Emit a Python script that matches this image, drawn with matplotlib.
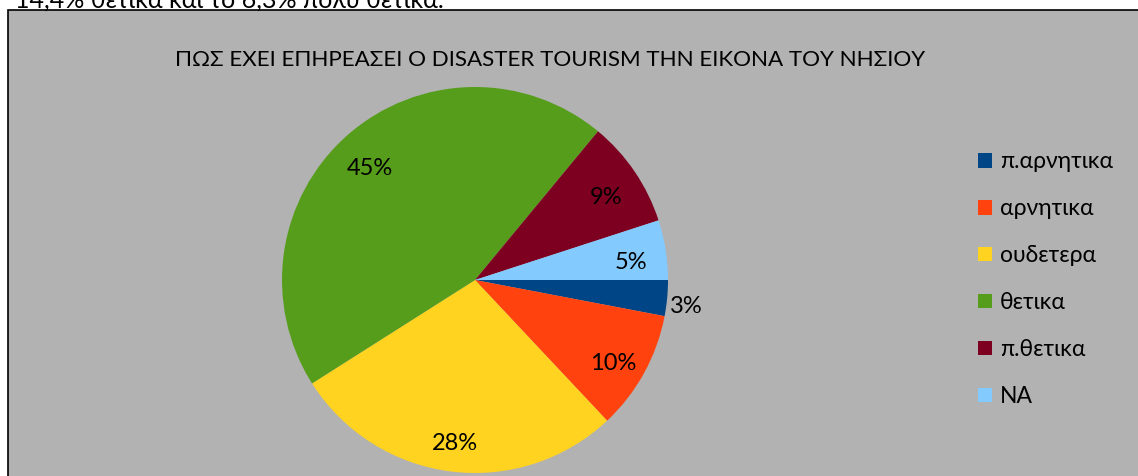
import matplotlib
matplotlib.use("Agg")
import matplotlib.pyplot as plt
from matplotlib.patches import Rectangle, Patch

plt.rcParams['font.family'] = ['Lato', 'DejaVu Sans']

# data
categories = ['π.αρνητικα', 'αρνητικα', 'ουδετερα', 'θετικα', 'π.θετικα', 'NA']
shares = [3, 10, 28, 45, 9, 5]
colors = ['#004586', '#FF420E', '#FFD320', '#579D1C', '#7E0021', '#83CAFF']
title = 'ΠΩΣ ΕΧΕΙ ΕΠΗΡΕΑΣΕΙ Ο DISASTER TOURISM ΤΗΝ ΕΙΚΟΝΑ ΤΟΥ ΝΗΣΙΟΥ'
top_text = '14,4% θετικα και το 6,3% πολυ θετικα.'

W, H = 1138, 476
fig = plt.figure(figsize=(W / 100, H / 100), dpi=100)
fig.patch.set_facecolor('white')

# gray chart area with black border
fig.patches.append(Rectangle((8 / W, -0.01), 1.2, (H - 10) / H + 0.01,
                             transform=fig.transFigure, facecolor='#B2B2B2',
                             edgecolor='black', linewidth=1.2, zorder=0))

# cut off line of text from the document above the chart
fig.text(15 / W, (H - 8) / H, top_text, fontsize=18, va='baseline', ha='left')

fig.text(550 / W, (H - 60) / H, title, fontsize=16.1, ha='center', va='center')

# pie axes: centre (475, 280), radius 193 px
cx, cy, r = 475, H - 280, 193
ax = fig.add_axes([(cx - r) / W, (cy - r) / H, 2 * r / W, 2 * r / H])
ax.set_zorder(2)

wedges, texts, autotexts = ax.pie(shares, colors=colors, startangle=0,
                                  counterclock=False, radius=1,
                                  autopct='%.0f%%', pctdistance=0.82,
                                  textprops={'fontsize': 17})
ax.set_xlim(-1, 1)
ax.set_ylim(-1, 1)
ax.axis('off')

# the smallest slice label sits outside the pie
x, y = autotexts[0].get_position()
autotexts[0].set_position((x * 1.34, y * 1.34))
for t in autotexts:
    t.set_color('black')
    t.set_va('center_baseline')
    x, y = t.get_position()
    t.set_position((x, y - 0.025))  # labels sit a touch lower in the original

handles = [Patch(facecolor=c, edgecolor='none') for c in colors]
leg = fig.legend(handles, categories, loc='upper left',
                 bbox_to_anchor=(967 / W, (H - 140) / H), frameon=False,
                 fontsize=16.5, handlelength=0.6, handleheight=0.6,
                 handletextpad=0.33, labelspacing=1.13, borderpad=0)
leg.set_zorder(3)

fig.savefig('out.png', dpi=100)
